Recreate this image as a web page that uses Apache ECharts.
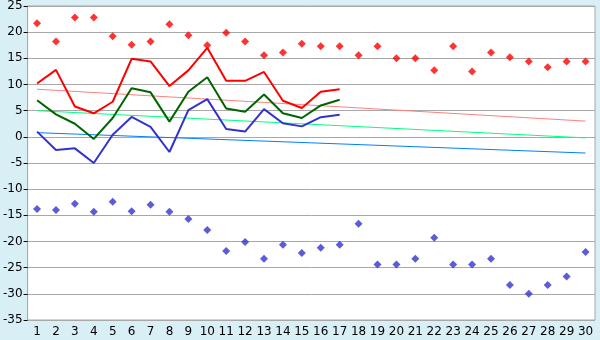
<!DOCTYPE html>
<html><head><meta charset="utf-8">
<script src="https://cdn.jsdelivr.net/npm/echarts@6/dist/echarts.min.js"></script>
<style>html,body{margin:0;padding:0;background:#d9eff6;}#c{width:600px;height:340px;}</style>
</head><body><div id="c"></div>
<script>
const categories = ['1','2','3','4','5','6','7','8','9','10','11','12','13','14','15','16','17','18','19','20','21','22','23','24','25','26','27','28','29','30'];
const maxTemps = [21.7,18.2,22.8,22.8,19.2,17.6,18.2,21.5,19.4,17.5,19.9,18.2,15.6,16.1,17.8,17.3,17.3,15.6,17.3,15.0,15.0,12.7,17.3,12.5,16.1,15.2,14.4,13.3,14.4,14.4];
const minTemps = [-13.8,-14.0,-12.8,-14.3,-12.4,-14.2,-13.0,-14.3,-15.7,-17.8,-21.8,-20.1,-23.3,-20.6,-22.2,-21.2,-20.6,-16.6,-24.4,-24.4,-23.3,-19.3,-24.4,-24.4,-23.3,-28.3,-30.0,-28.3,-26.7,-22.0];
const highLine = [10.2,12.8,5.8,4.5,6.7,14.9,14.4,9.7,12.7,17.0,10.7,10.7,12.4,6.9,5.5,8.6,9.1];
const meanLine = [7.0,4.3,2.5,-0.4,3.6,9.3,8.5,2.9,8.6,11.4,5.4,4.8,8.1,4.5,3.6,6.0,7.1];
const lowLine = [1.0,-2.5,-2.2,-5.0,0.4,3.8,1.9,-2.9,5.1,7.2,1.5,1.0,5.3,2.6,2.0,3.75,4.2];
const highTrend = [9.1, 3.0];
const meanTrend = [5.0, -0.2];
const lowTrend = [0.8, -3.1];
const yTicks = {min: -35, max: 25, interval: 5};

function trend(v){ return [[0, v[0]], [categories.length - 1, v[1]]]; }

const chart = echarts.init(document.getElementById('c'), null, {renderer: 'canvas'});
const font = 'DejaVu Sans';
chart.setOption({
  animation: false,
  backgroundColor: '#d9eff6',
  grid: {left: 26, right: 5, top: 5, bottom: 20, show: true, backgroundColor: '#ffffff', borderColor: '#a8a8a8', borderWidth: 1},
  xAxis: {
    type: 'category', data: categories, boundaryGap: true,
    axisLine: {lineStyle: {color: '#a8a8a8'}},
    axisTick: {alignWithLabel: true, length: 5, lineStyle: {color: '#000'}},
    axisLabel: {color: '#000', fontFamily: font, fontSize: 12, margin: 6, interval: 0},
    splitLine: {show: false}
  },
  yAxis: {
    type: 'value', min: yTicks.min, max: yTicks.max, interval: yTicks.interval,
    axisLine: {show: true, lineStyle: {color: '#a8a8a8'}},
    axisTick: {show: true, length: 4, lineStyle: {color: '#000'}},
    axisLabel: {color: '#000', fontFamily: font, fontSize: 12, margin: 5},
    splitLine: {lineStyle: {color: '#a8a8a8', width: 1}}
  },
  series: [
    {type: 'line', data: trend(highTrend), symbol: 'none', lineStyle: {color: '#ff8080', width: 1}, z: 2},
    {type: 'line', data: trend(meanTrend), symbol: 'none', lineStyle: {color: '#00ff80', width: 1}, z: 2},
    {type: 'line', data: trend(lowTrend), symbol: 'none', lineStyle: {color: '#0080ff', width: 1}, z: 2},
    {type: 'line', data: highLine, symbol: 'none', lineStyle: {color: '#ff0000', width: 2}, z: 3},
    {type: 'line', data: meanLine, symbol: 'none', lineStyle: {color: '#006400', width: 2}, z: 3},
    {type: 'line', data: lowLine, symbol: 'none', lineStyle: {color: '#3333cc', width: 2}, z: 3},
    {type: 'scatter', data: maxTemps, symbol: 'diamond', symbolSize: 8, itemStyle: {color: '#ff0000'}, z: 4},
    {type: 'scatter', data: minTemps, symbol: 'diamond', symbolSize: 8, itemStyle: {color: '#3333cc'}, z: 4}
  ]
});
</script></body></html>
